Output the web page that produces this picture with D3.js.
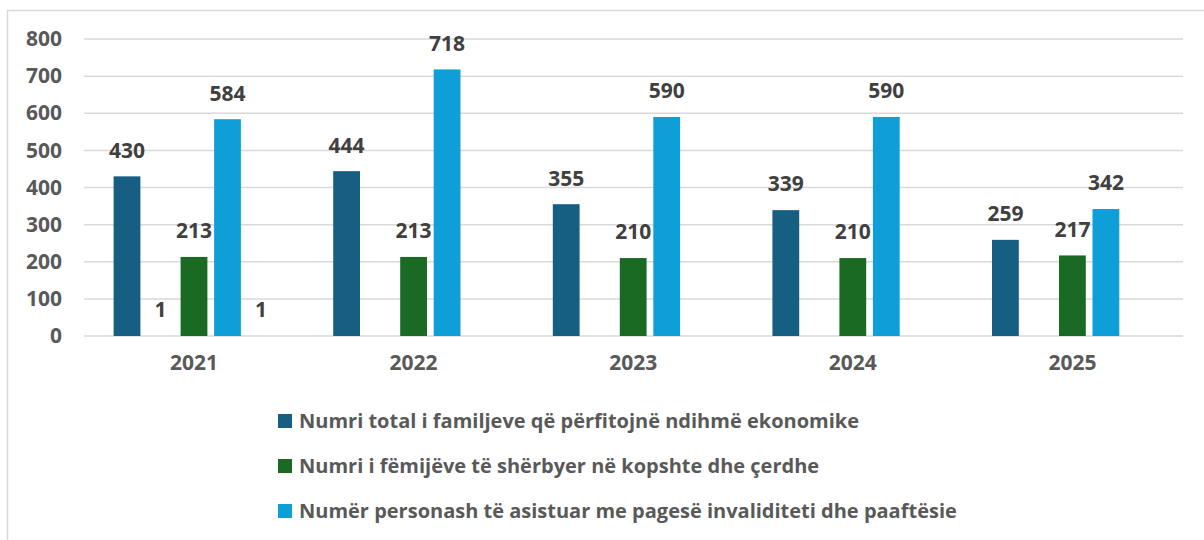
<!DOCTYPE html>
<html><head><meta charset="utf-8">
<script src="https://cdn.jsdelivr.net/npm/d3@7"></script>
<style>body{margin:0;background:#fff}svg{display:block}text{font-family:"Open Sans",sans-serif;font-weight:700}</style>
</head><body><svg id="c" width="1204" height="540"></svg>
<script>
const categories = ["2021","2022","2023","2024","2025"];
const seriesKeys = ["a","b","c","d","e"];
const seriesNames = {
  a:"Numri total i familjeve që përfitojnë ndihmë ekonomike",
  c:"Numri i fëmijëve të shërbyer në kopshte dhe çerdhe",
  d:"Numër personash të asistuar me pagesë invaliditeti dhe paaftësie"
};
const valuesA = [430,444,355,339,259];
const valuesB = [1,null,null,null,null];
const valuesC = [213,213,210,210,217];
const valuesD = [584,718,590,590,342];
const valuesE = [1,null,null,null,null];
const yTicks = [0,100,200,300,400,500,600,700,800];
const legendKeys = ["a","c","d"];
const colors = {a:"#175F82",b:"none",c:"#1B6A24",d:"#0F9FD8",e:"none"};
const seriesValues = {a:valuesA,b:valuesB,c:valuesC,d:valuesD,e:valuesE};

const svg = d3.select("#c");
// frame
svg.append("path").attr("d","M7.5,540 V10.5 H1204").attr("fill","none").attr("stroke","#d9d9d9").attr("stroke-width",1.5);

const x0 = d3.scaleBand().domain(categories).range([84.2,1182.2]).padding(0);
const y = d3.scaleLinear().domain([0,800]).range([336,39]);
const x1 = d3.scaleBand().domain(seriesKeys).range([0,x0.bandwidth()]).paddingInner(0.2).paddingOuter(0.878);

// gridlines
svg.append("g").selectAll("line").data(yTicks).join("line")
  .attr("x1",84).attr("x2",1183).attr("y1",d=>y(d)).attr("y2",d=>y(d))
  .attr("stroke","#d9d9d9").attr("stroke-width",1.5);

// y axis labels
const yAxis = d3.axisLeft(y).tickValues(yTicks).tickSize(0).tickPadding(0);
const gy = svg.append("g").attr("transform","translate(62,0)").call(yAxis);
gy.select(".domain").remove();
gy.selectAll("text").attr("font-size",21).attr("fill","#595959").attr("font-family","Open Sans").attr("font-weight",700);

// x axis labels
const xAxis = d3.axisBottom(x0).tickSize(0).tickPadding(0);
const gx = svg.append("g").attr("transform","translate(0,355)").call(xAxis);
gx.select(".domain").remove();
gx.selectAll("text").attr("font-size",21).attr("fill","#595959").attr("font-family","Open Sans").attr("font-weight",700);

// bars
const data = [];
categories.forEach((cat,i)=>seriesKeys.forEach(k=>{
  const v = seriesValues[k][i];
  if(v!=null) data.push({cat,k,v});
}));
const g = svg.append("g");
g.selectAll("rect").data(data).join("rect")
  .attr("x",d=>x0(d.cat)+x1(d.k)).attr("width",x1.bandwidth())
  .attr("y",d=>y(d.v)).attr("height",d=>y(0)-y(d.v))
  .attr("fill",d=>colors[d.k]);
g.selectAll("text").data(data).join("text")
  .attr("x",d=>x0(d.cat)+x1(d.k)+x1.bandwidth()/2)
  .attr("y",d=>y(d.v)-26).attr("dy","0.35em")
  .attr("text-anchor","middle").attr("font-size",21).attr("fill","#404040")
  .text(d=>d.v);

// legend
const lg = svg.append("g");
legendKeys.forEach((k,i)=>{
  const cy = 421 + i*45;
  lg.append("rect").attr("x",278).attr("y",cy-7).attr("width",14).attr("height",14).attr("fill",colors[k]);
  lg.append("text").attr("x",299).attr("y",cy).attr("dy","0.35em").attr("font-size",20).attr("fill","#595959").text(seriesNames[k]);
});
</script></body></html>
